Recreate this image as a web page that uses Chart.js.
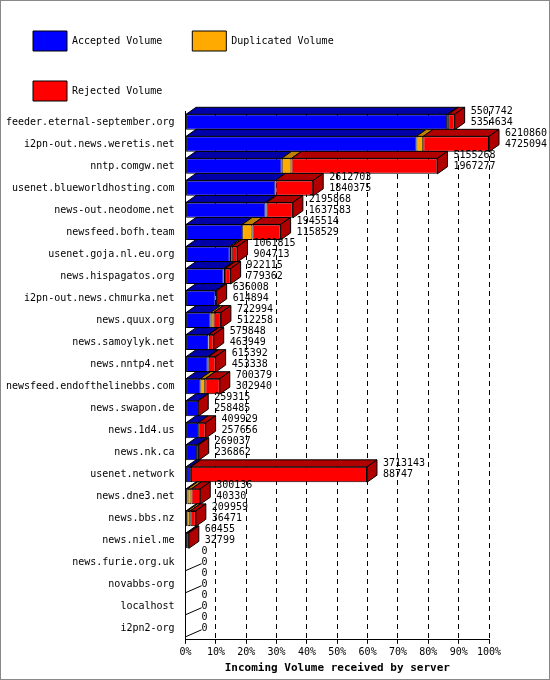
<!DOCTYPE html>
<html>
<head>
<meta charset="utf-8">
<script src="https://cdn.jsdelivr.net/npm/chart.js@4.4.0/dist/chart.umd.min.js"></script>
<style>
  body { margin: 0; background: #fff; }
  #wrap { width: 548px; height: 678px; border: 1px solid #888; position: relative; }
</style>
</head>
<body>
<div id="wrap"><canvas id="myChart" width="548" height="678"></canvas></div>
<script>
var servers = ["feeder.eternal-september.org", "i2pn-out.news.weretis.net", "nntp.comgw.net",
  "usenet.blueworldhosting.com", "news-out.neodome.net", "newsfeed.bofh.team", "usenet.goja.nl.eu.org",
  "news.hispagatos.org", "i2pn-out.news.chmurka.net", "news.quux.org", "news.samoylyk.net",
  "news.nntp4.net", "newsfeed.endofthelinebbs.com", "news.swapon.de", "news.1d4.us", "news.nk.ca",
  "usenet.network", "news.dne3.net", "news.bbs.nz", "news.niel.me", "news.furie.org.uk",
  "novabbs-org", "localhost", "i2pn2-org"];
var totalVolume = [5507742, 6210860, 5155268, 2612703, 2195868, 1945514, 1061815, 922115, 636008,
  722994, 575848, 615392, 700379, 259315, 409929, 269037, 3713143, 300136, 209959, 66455, 0, 0, 0, 0];
var acceptedVolume = [5354634, 4725094, 1967277, 1840375, 1637583, 1158529, 904713, 779362, 614894,
  512258, 463949, 453338, 302940, 258485, 257656, 236862, 88747, 40330, 36471, 32799, 0, 0, 0, 0];
var duplicatedVolume = [20000, 140000, 200000, 0, 20000, 210000, 40000, 30000, 0,
  60000, 10000, 20000, 100000, 0, 0, 0, 20000, 80000, 60000, 0, 0, 0, 0, 0];
var rejectedVolume = totalVolume.map(function (t, i) {
  return Math.max(0, t - acceptedVolume[i] - duplicatedVolume[i]);
});
var maxVolume = 6210860;

var FONT = "DejaVu Sans Mono";
var DX = 10, DY = -7;

function shade(hex) {
  return { "#0000ff": "#0000a8", "#ffaa00": "#c08000", "#ff0000": "#b00000" }[hex];
}

var depthPlugin = {
  id: "depth",
  afterDatasetsDraw: function (chart) {
    var c = chart.ctx;
    c.save();
    c.strokeStyle = "#000";
    c.lineWidth = 1;
    var n = servers.length;
    for (var i = 0; i < n; i++) {
      var lastEl = null, lastColor = null;
      for (var d = 0; d < 3; d++) {
        var el = chart.getDatasetMeta(d).data[i];
        var ds = chart.data.datasets[d];
        if (ds.data[i] <= 0) continue;
        var x0 = el.base, x1 = el.x, top = el.y - el.height / 2;
        c.fillStyle = shade(ds.backgroundColor);
        c.beginPath();
        c.moveTo(x0, top); c.lineTo(x0 + DX, top + DY); c.lineTo(x1 + DX, top + DY); c.lineTo(x1, top);
        c.closePath(); c.fill(); c.stroke();
        lastEl = el; lastColor = ds.backgroundColor;
      }
      var sy = chart.scales.y.getPixelForValue(i);
      var bx = chart.scales.x.getPixelForValue(0);
      if (lastEl) {
        var x = lastEl.x, t = lastEl.y - lastEl.height / 2, b = lastEl.y + lastEl.height / 2;
        c.fillStyle = shade(lastColor);
        c.beginPath();
        c.moveTo(x, t); c.lineTo(x + DX, t + DY); c.lineTo(x + DX, b + DY); c.lineTo(x, b);
        c.closePath(); c.fill(); c.stroke();
      } else {
        c.beginPath(); c.moveTo(bx, sy + 8); c.lineTo(bx + DX + 6, sy + 1); c.stroke();
      }
      var lx = (lastEl ? lastEl.x : bx) + DX + 6;
      c.fillStyle = "#000";
      c.font = "10px " + FONT;
      c.textBaseline = "middle";
      c.fillText(String(totalVolume[i]), lx, sy - 11);
      c.fillText(String(acceptedVolume[i]), lx, sy);
    }
    c.restore();
  }
};

var ctx = document.getElementById("myChart");
var myChart = new Chart(ctx, {
  type: "bar",
  data: {
    labels: servers,
    datasets: [
      { label: "Accepted Volume", data: acceptedVolume, backgroundColor: "#0000ff" },
      { label: "Duplicated Volume", data: duplicatedVolume, backgroundColor: "#ffaa00" },
      { label: "Rejected Volume", data: rejectedVolume, backgroundColor: "#ff0000" }
    ]
  },
  options: {
    responsive: false,
    animation: false,
    indexAxis: "y",
    layout: { padding: { left: 2, right: 60, top: 0, bottom: 4 } },
    datasets: { bar: { borderColor: "#000", borderWidth: 1, barPercentage: 0.7, categoryPercentage: 1, borderSkipped: false } },
    scales: {
      x: {
        stacked: true, min: 0, max: maxVolume,
        ticks: {
          stepSize: maxVolume / 10, color: "#000", font: { family: FONT, size: 10 }, maxRotation: 0,
          callback: function (v) { return Math.round(v / maxVolume * 100) + "%"; }
        },
        grid: { color: "#000", tickLength: 4, drawOnChartArea: true },
        border: { color: "#000", dash: [5, 4] },
        title: { display: true, text: "Incoming Volume received by server", color: "#000", font: { family: FONT, size: 11, weight: "bold" }, padding: 0 }
      },
      y: {
        stacked: true,
        ticks: { color: "#000", font: { family: FONT, size: 10 }, autoSkip: false },
        grid: { display: false },
        border: { color: "#000" }
      }
    },
    plugins: {
      legend: {
        position: "top", align: "start",
        labels: { color: "#000", font: { family: FONT, size: 10 }, boxWidth: 34, boxHeight: 20, padding: 30 }
      },
      tooltip: { enabled: false }
    }
  },
  plugins: [depthPlugin]
});
</script>
</body>
</html>
